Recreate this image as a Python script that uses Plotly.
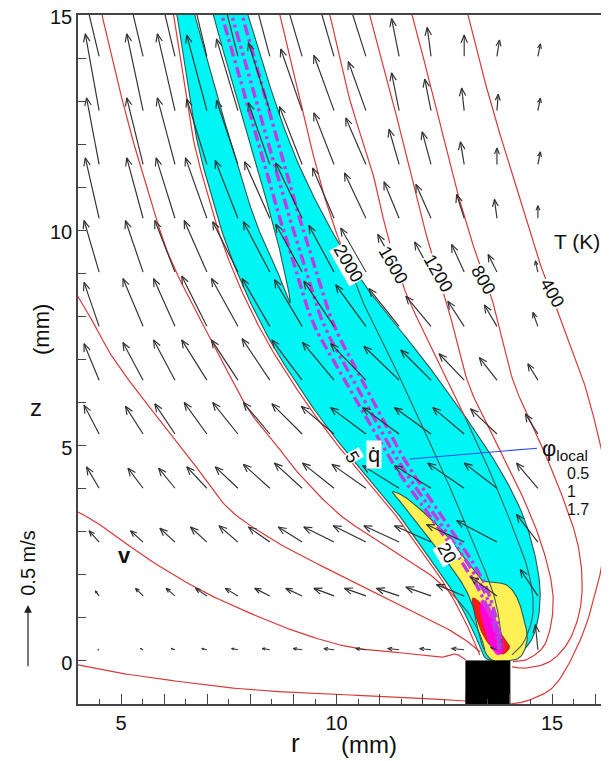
import numpy as np
import plotly.graph_objects as go

# ---------------- axes ----------------
R_RANGE = [4, 16.25]
Z_RANGE = [-1, 15]
x_tick_vals = [4, 5, 6, 7, 8, 9, 10, 11, 12, 13, 14, 15, 16]
x_tick_text = ['', '5', '', '', '', '', '10', '', '', '', '', '15', '']
y_tick_vals = [-1, 0, 1, 2, 3, 4, 5, 6, 7, 8, 9, 10, 11, 12, 13, 14, 15]
y_tick_text = ['', '0', '', '', '', '', '5', '', '', '', '', '10', '', '', '', '', '15']

# ---------------- velocity field (m/s) ----------------
r_grid = [4.49, 5.51, 6.25, 6.99, 7.71, 8.45, 9.20, 9.94, 10.68, 11.45, 12.19, 12.96, 13.72, 14.67]
z_grid = [0.26, 1.51, 2.76, 4.01, 5.27, 6.52, 7.77, 9.03, 10.28, 11.53, 12.78, 14.04]
vr = [
    [-0.01,-0.02,-0.03,-0.04,-0.05,-0.06,-0.07,-0.08,-0.08,-0.09,-0.09,-0.10,-0.05,-0.02],
    [-0.03,-0.06,-0.07,-0.09,-0.10,-0.12,-0.13,-0.16,-0.17,-0.18,-0.20,-0.22,-0.21,-0.14],
    [-0.08,-0.10,-0.12,-0.13,-0.15,-0.17,-0.19,-0.24,-0.26,-0.28,-0.29,-0.30,-0.32,-0.17],
    [-0.10,-0.12,-0.13,-0.16,-0.18,-0.21,-0.22,-0.25,-0.27,-0.29,-0.29,-0.29,-0.26,-0.17],
    [-0.12,-0.14,-0.16,-0.18,-0.20,-0.21,-0.24,-0.26,-0.28,-0.29,-0.29,-0.25,-0.21,-0.10],
    [-0.12,-0.16,-0.17,-0.20,-0.21,-0.22,-0.24,-0.25,-0.28,-0.28,-0.24,-0.20,-0.14,-0.08],
    [-0.12,-0.16,-0.17,-0.20,-0.21,-0.22,-0.22,-0.24,-0.24,-0.24,-0.20,-0.13,-0.10,-0.04],
    [-0.12,-0.14,-0.16,-0.18,-0.20,-0.21,-0.21,-0.20,-0.20,-0.17,-0.13,-0.10,-0.07,-0.02],
    [-0.11,-0.13,-0.15,-0.17,-0.18,-0.20,-0.21,-0.17,-0.17,-0.12,-0.12,-0.06,-0.02, 0.00],
    [-0.10,-0.13,-0.14,-0.16,-0.17,-0.17,-0.18,-0.16,-0.16,-0.08,-0.07,-0.03, 0.00, 0.02],
    [-0.11,-0.13,-0.14,-0.16,-0.17,-0.17,-0.17,-0.16,-0.14,-0.06,-0.05,-0.02, 0.01, 0.02],
    [-0.16,-0.16,-0.16,-0.16,-0.16,-0.16,-0.16,-0.14,-0.13,-0.06,-0.03, 0.00, 0.02, 0.02],
]
vz = [
    [0.00,0.01,0.01,0.01,0.01,0.01,0.01,0.01,0.01,0.01,0.01,0.01,0.02,0.20],
    [0.04,0.06,0.06,0.06,0.06,0.06,0.06,0.06,0.06,0.06,0.07,0.09,0.15,0.21],
    [0.09,0.09,0.11,0.12,0.13,0.12,0.12,0.12,0.13,0.13,0.13,0.14,0.17,0.22],
    [0.17,0.16,0.16,0.17,0.17,0.19,0.20,0.20,0.19,0.18,0.18,0.20,0.20,0.20],
    [0.23,0.22,0.24,0.25,0.25,0.25,0.24,0.22,0.21,0.21,0.21,0.21,0.20,0.16],
    [0.29,0.30,0.32,0.32,0.32,0.33,0.32,0.30,0.29,0.27,0.24,0.21,0.18,0.13],
    [0.35,0.38,0.38,0.40,0.38,0.38,0.37,0.36,0.33,0.30,0.24,0.20,0.17,0.11],
    [0.41,0.41,0.41,0.41,0.40,0.40,0.38,0.37,0.35,0.30,0.24,0.22,0.14,0.09],
    [0.48,0.48,0.48,0.48,0.46,0.45,0.44,0.40,0.36,0.29,0.27,0.19,0.15,0.10],
    [0.53,0.53,0.53,0.52,0.51,0.49,0.46,0.41,0.37,0.28,0.26,0.18,0.13,0.10],
    [0.61,0.61,0.61,0.60,0.57,0.54,0.49,0.44,0.39,0.30,0.25,0.18,0.13,0.10],
    [0.67,0.67,0.67,0.67,0.63,0.60,0.54,0.48,0.41,0.30,0.23,0.17,0.13,0.10],
]
V_REF = 0.5          # m/s, reference arrow
V_REF_LEN = 1.46     # mm drawn for V_REF

# ---------------- isotherms (r, z) in mm ----------------
T2000 = [(8.62,15.27),(8.69,14.99),(9.15,13.02),(9.61,11.16),(9.92,10.16),(10.19,9.42),(10.59,8.38),
         (11.12,7.33),(11.70,6.06),(12.40,4.55),(13.10,2.92),(13.61,1.65),(13.79,0.84),(13.84,0.26)]
T1600 = [(9.78,15.27),(9.85,14.99),(10.31,13.02),(10.82,11.39),(11.12,10.12),(11.36,9.30),(11.63,8.49),
         (12.17,7.33),(12.79,6.06),(13.44,4.66),(14.02,3.27),(14.44,2.11),(14.56,1.18),(14.37,0.49),(14.07,0.14)]
T1200 = [(10.71,15.27),(10.77,14.99),(11.24,13.25),(11.70,11.39),(12.05,10.0),(12.56,8.31),(13.03,6.52),
         (13.56,5.36),(14.14,4.20),(14.72,2.81),(15.02,1.53),(14.88,0.49),(14.49,0.07),(14.09,-0.02)]
T800 = [(11.68,15.27),(11.75,14.99),(12.21,13.25),(12.79,10.93),(13.26,9.37),(13.63,8.31),(14.09,6.52),
        (14.60,5.36),(15.18,3.97),(15.60,2.69),(15.69,1.53),(15.46,0.60),(15.00,0.02),(14.44,-0.16),(14.07,-0.14)]
T400 = [(12.98,15.27),(13.05,14.99),(13.56,13.02),(14.19,10.93),(14.72,9.23),(15.18,7.98),(15.72,6.52),
        (16.04,5.36),(16.25,4.43),(16.34,3.50),(16.23,2.69),(16.11,2.00),(15.72,0.65),(15.11,-0.51),
        (14.49,-0.90),(14.02,-1.0)]
T_left_a = [(4.51,15.3),(4.56,14.99),(4.86,13.71),(5.21,12.32),(5.62,10.93),(6.06,9.54),(6.60,8.38),
            (7.13,7.38),(7.92,5.89),(8.52,5.13),(9.15,4.32),(10.08,3.39),(11.12,2.69),(12.17,2.00),
            (12.91,1.30),(13.28,0.72),(13.44,0.26)]
T_left_b = [(3.91,8.61),(4.00,8.45),(4.39,7.80),(4.74,7.15),(5.32,6.33),(5.90,5.59),(6.71,4.55),
            (7.46,3.57),(8.34,2.92),(9.15,2.46),(10.31,1.88),(11.47,1.30),(12.40,0.84),(12.98,0.49),(13.33,0.21)]
T_left_c = [(3.91,3.50),(4.00,3.46),(4.51,3.16),(5.67,2.34),(6.83,1.65),(7.99,1.11),(9.15,0.65),
            (10.31,0.32),(11.47,0.19),(12.40,0.09),(12.75,0.16),(13.00,0.02)]
T_left_d = [(3.91,-0.07),(4.00,-0.09),(4.97,-0.28),(6.06,-0.44),(7.60,-0.63),(9.15,-0.74),
            (11.47,-0.84),(13.00,-0.93)]
T_edge = [(6.17,15.3),(6.45,13.48),(6.68,12.09),(6.98,10.93),(7.33,9.77),(7.79,8.61),(8.37,7.45),
          (9.02,6.40),(9.58,5.59),(10.11,4.90),(10.69,4.20),(11.28,3.50),(11.86,2.69),(12.44,1.88),
          (12.85,1.18),(13.13,0.60),(13.32,0.14)]
isotherms = [T2000, T1600, T1200, T800, T400, T_left_a, T_left_b, T_left_c, T_left_d, T_edge]

# ---------------- heat-release regions ----------------
q5_region = [(6.25,15.3),(6.30,14.99),(6.53,13.48),(6.76,12.09),(7.06,10.93),(7.41,9.77),(7.87,8.61),
             (8.45,7.45),(9.10,6.40),(9.66,5.59),(10.19,4.90),(10.77,4.20),(11.36,3.50),(11.94,2.69),
             (12.52,1.88),(12.93,1.18),(13.21,0.60),(13.40,0.14),(13.56,0.02),(13.91,0.02),
             (14.14,0.09),(14.49,0.44),(14.67,0.95),(14.72,1.65),(14.60,2.46),(14.32,3.39),(13.86,4.32),
             (13.28,5.24),(12.63,6.17),(11.94,7.10),(11.29,7.91),(10.66,8.72),(10.08,9.65),(9.57,10.58),
             (9.08,11.62),(8.64,12.78),(8.27,13.94),(7.94,14.99),(7.85,15.3)]
q5_gap = [(6.63,15.3),(6.71,14.99),(7.13,13.48),(7.60,11.86),(8.11,10.23),(8.57,9.19),(8.92,8.31),
          (8.76,9.19),(8.50,10.23),(8.04,11.86),(7.57,13.48),(7.13,14.99),(7.05,15.3)]
q20_region = [(11.29,3.92),(11.55,3.83),(12.00,3.47),(12.48,3.00),(12.84,2.55),(13.14,2.16),(13.37,1.88),
              (13.61,1.83),(13.95,1.76),(14.19,1.46),(14.35,0.95),(14.42,0.49),(14.26,0.09),(13.91,0.0),
              (13.61,0.02),(13.42,0.26),(13.28,0.72),(13.19,1.18),(13.00,1.65),(12.70,2.12),(12.32,2.62),
              (11.92,3.15),(11.55,3.62)]
q_high_region = [(13.16,1.46),(13.33,1.35),(13.56,1.00),(13.79,0.67),(13.98,0.42),(14.00,0.28),(13.84,0.16),
                 (13.61,0.30),(13.40,0.60),(13.26,0.95),(13.16,1.30)]
phi_rich_region = [(13.40,1.42),(13.61,1.14),(13.79,0.72),(13.88,0.30),(13.74,0.14),(13.56,0.37),
                   (13.42,0.84),(13.33,1.23)]

# ---------------- equivalence-ratio lines ----------------
phi_05 = [(7.27,15.27),(7.34,14.99),(7.90,13.02),(8.48,10.93),(8.92,9.54),(9.43,7.91),(10.06,6.75),
          (10.59,5.82),(11.36,4.50),(12.45,2.97),(13.10,2.00),(13.42,1.42),(13.68,0.72),(13.77,0.26)]
phi_1 = [(7.50,15.27),(7.57,14.99),(8.13,13.02),(8.71,10.93),(9.15,9.54),(9.66,7.91),(10.26,6.75),
         (10.77,5.82),(11.52,4.50),(12.58,2.97),(13.21,2.00),(13.51,1.42),(13.72,0.72),(13.79,0.26)]
phi_17 = [(7.74,15.27),(7.81,14.99),(8.36,13.02),(8.94,10.93),(9.38,9.54),(9.89,7.91),(10.47,6.75),
          (10.96,5.82),(11.68,4.50),(12.72,2.97),(13.33,2.00),(13.58,1.42),(13.77,0.72),(13.81,0.26)]

burner_r = [13.0, 14.02]
burner_z = [-1.0, 0.0]

# labels
iso_labels = ['2000', '1600', '1200', '800', '400']
iso_label_pos = [(10.26,9.23),(11.31,9.19),(12.35,9.00),(13.40,8.84),(15.0,8.54)]
phi_values = ['0.5', '1', '1.7']

# ---------------- helpers ----------------
def catmull(pts, n=12, closed=False):
    P = np.array(pts, float)
    if closed:
        m = len(P)
        idx = [((i - 1) % m, i, (i + 1) % m, (i + 2) % m) for i in range(m)]
    else:
        P = np.vstack([2 * P[0] - P[1], P, 2 * P[-1] - P[-2]])
        idx = [(i - 1, i, i + 1, i + 2) for i in range(1, len(P) - 2)]
    t = np.linspace(0, 1, n, endpoint=False)[:, None]
    out = []
    for a, b, c, d in idx:
        p0, p1, p2, p3 = P[a], P[b], P[c], P[d]
        seg = 0.5 * (2 * p1 + (-p0 + p2) * t + (2 * p0 - 5 * p1 + 4 * p2 - p3) * t ** 2
                     + (-p0 + 3 * p1 - 3 * p2 + p3) * t ** 3)
        out.append(seg)
    if closed:
        out.append(out[0][:1])
    else:
        out.append(P[-2][None, :])
    return np.vstack(out)

def in_poly(x, y, poly):
    px, py = poly[:, 0], poly[:, 1]
    inside = np.zeros(len(x), bool)
    j = len(px) - 1
    for i in range(len(px)):
        dy = py[j] - py[i]
        dy = np.where(dy == 0, 1e-12, dy)
        cond = ((py[i] > y) != (py[j] > y)) & (x < (px[j] - px[i]) * (y - py[i]) / dy + px[i])
        inside ^= cond
        j = i
    return inside

cyan_poly = catmull(q5_region, 10, closed=True)
gap_poly = catmull(q5_gap, 10, closed=True)
yellow_poly = catmull(q20_region, 10, closed=True)
red_poly = catmull(q_high_region, 10, closed=True)
pink_poly = catmull(phi_rich_region, 10, closed=True)

fig = go.Figure()

def add_fill(poly, fill, line, width=1.0):
    fig.add_trace(go.Scatter(x=poly[:, 0], y=poly[:, 1], mode='lines', fill='toself',
                             fillcolor=fill, line=dict(color=line, width=width),
                             hoverinfo='skip'))

OUTLINE = '#2e5a52'
add_fill(cyan_poly, '#00F5F5', OUTLINE, 1.1)
add_fill(gap_poly, 'white', OUTLINE, 1.1)
add_fill(yellow_poly, '#FFF055', OUTLINE, 1.1)
add_fill(red_poly, '#FF1A1A', '#7a2a20', 0.8)
add_fill(pink_poly, 'rgba(255,0,255,0.85)', 'rgba(255,0,255,0.85)', 0.5)

# isotherms: red outside heat-release zone, dark where they cross it
red_x, red_y, dk_x, dk_y = [], [], [], []
for iso in isotherms:
    d = catmull(iso, 14)
    ins = in_poly(d[:, 0], d[:, 1], cyan_poly) & ~in_poly(d[:, 0], d[:, 1], gap_poly)
    start = 0
    for k in range(1, len(d) + 1):
        if k == len(d) or ins[k] != ins[start]:
            seg = d[start:min(k + 1, len(d))]
            tx, ty = (dk_x, dk_y) if ins[start] else (red_x, red_y)
            tx += list(seg[:, 0]) + [None]
            ty += list(seg[:, 1]) + [None]
            start = k
fig.add_trace(go.Scatter(x=red_x, y=red_y, mode='lines', line=dict(color='#D63A3A', width=1.2),
                         hoverinfo='skip'))
fig.add_trace(go.Scatter(x=dk_x, y=dk_y, mode='lines', line=dict(color='#3C5F57', width=1.1),
                         hoverinfo='skip'))

# equivalence ratio lines
for line_pts, dash in [(phi_05, '11px,4px,3px,4px'), (phi_1, '11px,4px,3px,4px,3px,4px'),
                       (phi_17, '11px,4px,3px,4px')]:
    d = catmull(line_pts, 12)
    fig.add_trace(go.Scatter(x=d[:, 0], y=d[:, 1], mode='lines',
                             line=dict(color='#BE3CE6', width=3.4, dash=dash), hoverinfo='skip'))

# velocity arrows
scale = V_REF_LEN / V_REF
ax_, ay_ = [], []
for i, z0 in enumerate(z_grid):
    for j, r0 in enumerate(r_grid):
        dr = vr[i][j] * scale
        dz = vz[i][j] * scale
        L = float(np.hypot(dr, dz))
        if L < 1e-6:
            continue
        r1, z1 = r0 + dr, z0 + dz
        ax_ += [r0, r1, None]
        ay_ += [z0, z1, None]
        h = min(0.2, 0.4 * L)
        ang = np.arctan2(dz, dr)
        a1 = ang + np.pi + np.radians(22)
        a2 = ang + np.pi - np.radians(22)
        ax_ += [r1 + h * np.cos(a1), r1, r1 + h * np.cos(a2), None]
        ay_ += [z1 + h * np.sin(a1), z1, z1 + h * np.sin(a2), None]
fig.add_trace(go.Scatter(x=ax_, y=ay_, mode='lines', line=dict(color='#303030', width=1.15),
                         hoverinfo='skip'))

# burner
fig.add_trace(go.Scatter(x=[burner_r[0], burner_r[1], burner_r[1], burner_r[0], burner_r[0]],
                         y=[burner_z[0], burner_z[0], burner_z[1], burner_z[1], burner_z[0]],
                         mode='lines', fill='toself', fillcolor='black',
                         line=dict(color='black', width=1), hoverinfo='skip'))

# leader line from q-dot to phi legend
fig.add_trace(go.Scatter(x=[11.70, 14.65], y=[4.69, 4.94], mode='lines',
                         line=dict(color='#3048F0', width=1.1), hoverinfo='skip'))

# plot-area geometry (pixels); the page body adds an 8 px offset, compensated here
W, H = 609, 761
PW, PH = 528, 689
ML, MT = 70, 7
MR, MB = W - ML - PW, H - MT - PH
PX_PER_MM = PH / (Z_RANGE[1] - Z_RANGE[0])

def paper_y(z):
    return (z - Z_RANGE[0]) / (Z_RANGE[1] - Z_RANGE[0])

ann = []
for txt, (r, z) in zip(iso_labels, iso_label_pos):
    ann.append(dict(x=r, y=z, text=txt, showarrow=False, textangle=60, bgcolor='white',
                    borderpad=0, font=dict(size=18, color='#111')))
ann.append(dict(x=15.58, y=9.74, text='T (K)', showarrow=False, font=dict(size=21, color='#111')))
ann.append(dict(x=10.36, y=4.73, text='5', showarrow=False, textangle=60, bgcolor='white',
                borderpad=0, font=dict(size=18, color='#111')))
ann.append(dict(x=10.87, y=4.80, text='q̇', showarrow=False, bgcolor='white', borderpad=1,
                font=dict(size=22, color='#111')))
ann.append(dict(x=12.56, y=2.51, text='20', showarrow=False, textangle=60, bgcolor='white',
                borderpad=0, font=dict(size=18, color='#111')))
ann.append(dict(x=14.72, y=4.90, text='φ<sub>local</sub>', showarrow=False, xanchor='left',
                font=dict(size=22, color='#111')))
for k, txt in enumerate(phi_values):
    ann.append(dict(x=15.30, y=4.36 - 0.42 * k, text=txt, showarrow=False, xanchor='left',
                    font=dict(size=16, color='#111')))
ann.append(dict(x=5.09, y=2.46, text='<b>v</b>', showarrow=False, font=dict(size=22, color='#111')))
# reference velocity arrow (0.5 m/s), drawn left of the axis
ann.append(dict(x=-50 / PW, y=paper_y(-0.16 + V_REF_LEN), xref='paper', yref='paper',
                ax=0, ay=V_REF_LEN * PX_PER_MM, showarrow=True, arrowhead=2, arrowsize=1.3,
                arrowwidth=1.2, arrowcolor='#222', text=''))
ann.append(dict(x=-0.0947, y=0.205, xref='paper', yref='paper', text='0.5 m/s', showarrow=False,
                xanchor='center', yanchor='middle', textangle=-90, font=dict(size=20, color='#111')))
# axis titles
ann.append(dict(x=-0.0795, y=0.431, xref='paper', yref='paper', text='z', showarrow=False,
                xanchor='center', yanchor='middle', font=dict(size=24, color='#111')))
ann.append(dict(x=-0.068, y=0.543, xref='paper', yref='paper', text='(mm)', showarrow=False,
                xanchor='center', yanchor='middle', textangle=-90, font=dict(size=22, color='#111')))
ann.append(dict(x=0.411, y=-0.0566, xref='paper', yref='paper', text='r', showarrow=False,
                xanchor='center', yanchor='middle', font=dict(size=26, color='#111')))
ann.append(dict(x=0.552, y=-0.0595, xref='paper', yref='paper', text='(mm)', showarrow=False,
                xanchor='center', yanchor='middle', font=dict(size=24, color='#111')))

fig.update_layout(width=W, height=H, margin=dict(l=ML, r=MR, t=MT, b=MB, autoexpand=False),
                  plot_bgcolor='white', paper_bgcolor='white', showlegend=False,
                  font=dict(family='Liberation Sans, Arial, sans-serif', color='#111'),
                  annotations=ann)
fig.update_xaxes(range=R_RANGE, tickvals=x_tick_vals, ticktext=x_tick_text, ticks='inside',
                 ticklen=10, tickwidth=1.2, tickcolor='#444', showline=True, linecolor='#444',
                 linewidth=1.5, mirror=True, showgrid=False, zeroline=False, automargin=False,
                 ticklabeloverflow='allow', tickfont=dict(size=20, color='#111'),
                 minor=dict(dtick=0.5, tick0=0, ticks='inside', ticklen=5, tickcolor='#444'))
fig.update_yaxes(range=Z_RANGE, tickvals=y_tick_vals, ticktext=y_tick_text, ticks='inside',
                 ticklen=8, tickwidth=1.2, tickcolor='#444', showline=True, linecolor='#444',
                 linewidth=1.5, showgrid=False, zeroline=False, automargin=False,
                 ticklabeloverflow='allow', ticklabelshift=2, tickfont=dict(size=20, color='#111'))

fig.write_html('out.html')
